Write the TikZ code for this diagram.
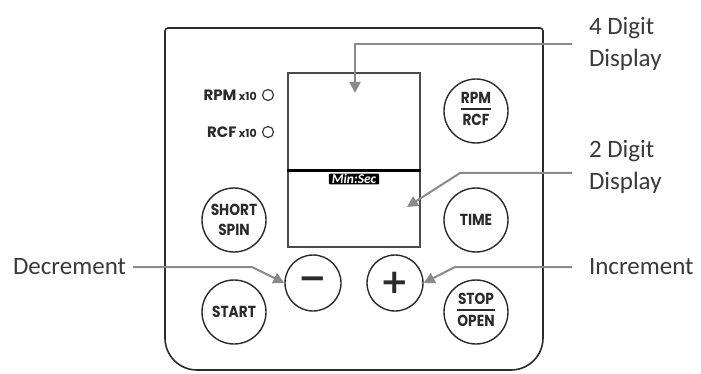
\documentclass[tikz,border=0pt]{standalone}
\usepackage{fontspec}
\setmainfont{Carlito}
\newfontfamily\keyfont[FakeStretch=0.86]{Poppins}
\newfontfamily\ledfont{Poppins}
\newfontfamily\signfont{DejaVu Sans}
\usetikzlibrary{arrows.meta,positioning}
\definecolor{pnInk}{HTML}{2B2B2B}
\definecolor{pnGrey}{HTML}{8A8A8A}
\definecolor{pnText}{HTML}{3A3A3A}
\newcommand{\keysplit}[2]{{\setlength{\arrayrulewidth}{1.9pt}\renewcommand{\arraystretch}{0.8}%
  \begin{tabular}{@{}c@{}}#1\\\hline\rule{0pt}{15pt}#2\end{tabular}}}
\tikzset{
  panel/.style={draw=pnInk,line width=1.6pt},
  screen/.style={draw=pnInk!85,line width=1.4pt,minimum width=132pt,inner sep=0pt},
  divider/.style={draw=black,line width=2.6pt},
  key/.style={circle,draw=pnInk,line width=1.4pt,minimum size=64pt,inner sep=0pt,
    align=center,text=pnInk,font=\keyfont\bfseries\fontsize{16}{20}\selectfont},
  signkey/.style={key,minimum size=56pt,font=\signfont\bfseries\fontsize{34}{34}\selectfont},
  led/.style={circle,draw=pnInk,line width=1.1pt,minimum size=11pt,inner sep=0pt},
  ledlabel/.style={text=pnInk,inner sep=0pt,font=\ledfont\bfseries\fontsize{15}{16}\selectfont},
  tab/.style={fill=black,text=white,inner xsep=3pt,inner ysep=0.5pt,rounded corners=1pt,
    font=\bfseries\itshape\fontsize{13.5}{13.5}\selectfont},
  callout/.style={text=pnText,align=left,inner sep=0pt,outer xsep=17pt,
    font=\fontsize{25}{32}\selectfont},
  pointer/.style={-{Triangle[length=11pt,width=11pt]},draw=pnGrey,line width=2pt},
}
\begin{document}
\begin{tikzpicture}[x=1pt,y=-1pt]
  \useasboundingbox (0,0) rectangle (701,374);
  \draw[panel,rounded corners=3pt] (165,300) -- (165,28) -- (543,28) -- (543,300);
  \draw[panel,rounded corners=32pt] (165,280) -- (165,370) -- (543,370) -- (543,280);
  \node[screen,minimum height=98pt] (digits4) at (354,122) {};
  \node[screen,minimum height=76pt] (digits2) at (354,209) {};
  \draw[divider] (digits2.north west) -- (digits2.north east);
  \node[tab] (minsec) at (354,179) {Min:Sec};
  \coordinate (tip4) at (355,93);
  \coordinate (tip2) at (407,207);
  \node[led] (rpmled) at (268,95) {};
  \node[led] (rcfled) at (268,132) {};
  \node[ledlabel,left=5pt of rpmled] (rpmtxt) {RPM\,{\fontsize{11}{11}\selectfont x10}};
  \node[ledlabel,left=5pt of rcfled] (rcftxt) {RCF\,{\fontsize{11}{11}\selectfont x10}};
  \node[key] (rpmrcf) at (476,111) {\keysplit{RPM}{RCF}};
  \node[key] (short) at (234,220) {SHORT\\SPIN};
  \node[key] (time) at (476,220) {TIME};
  \node[key] (start) at (234,312) {START};
  \node[key] (stop) at (476,312) {\keysplit{STOP}{OPEN}};
  \node[signkey] (minus) at (313,283) {−};
  \node[signkey] (plus) at (395,283) {+};
  \node[callout,anchor=west] (lbl4) at (572,44) {4 Digit\\Display};
  \node[callout,anchor=west] (lbl2) at (572,167) {2 Digit\\Display};
  \node[callout,anchor=west] (lblinc) at (572,267) {Increment};
  \node[callout,anchor=east,outer xsep=7pt] (lbldec) at (133,267) {Decrement};
  \draw[pointer] (lbl4.west) -| (tip4);
  \draw[pointer] ([yshift=-6pt]lbl2.west) -- ++(-112,0) -- (tip2);
  \draw[pointer] (lblinc.west) -- ++(-117,0) -- (plus.east);
  \draw[pointer] (lbldec.east) -- ++(119,0) -- (minus.west);
\end{tikzpicture}
\end{document}
